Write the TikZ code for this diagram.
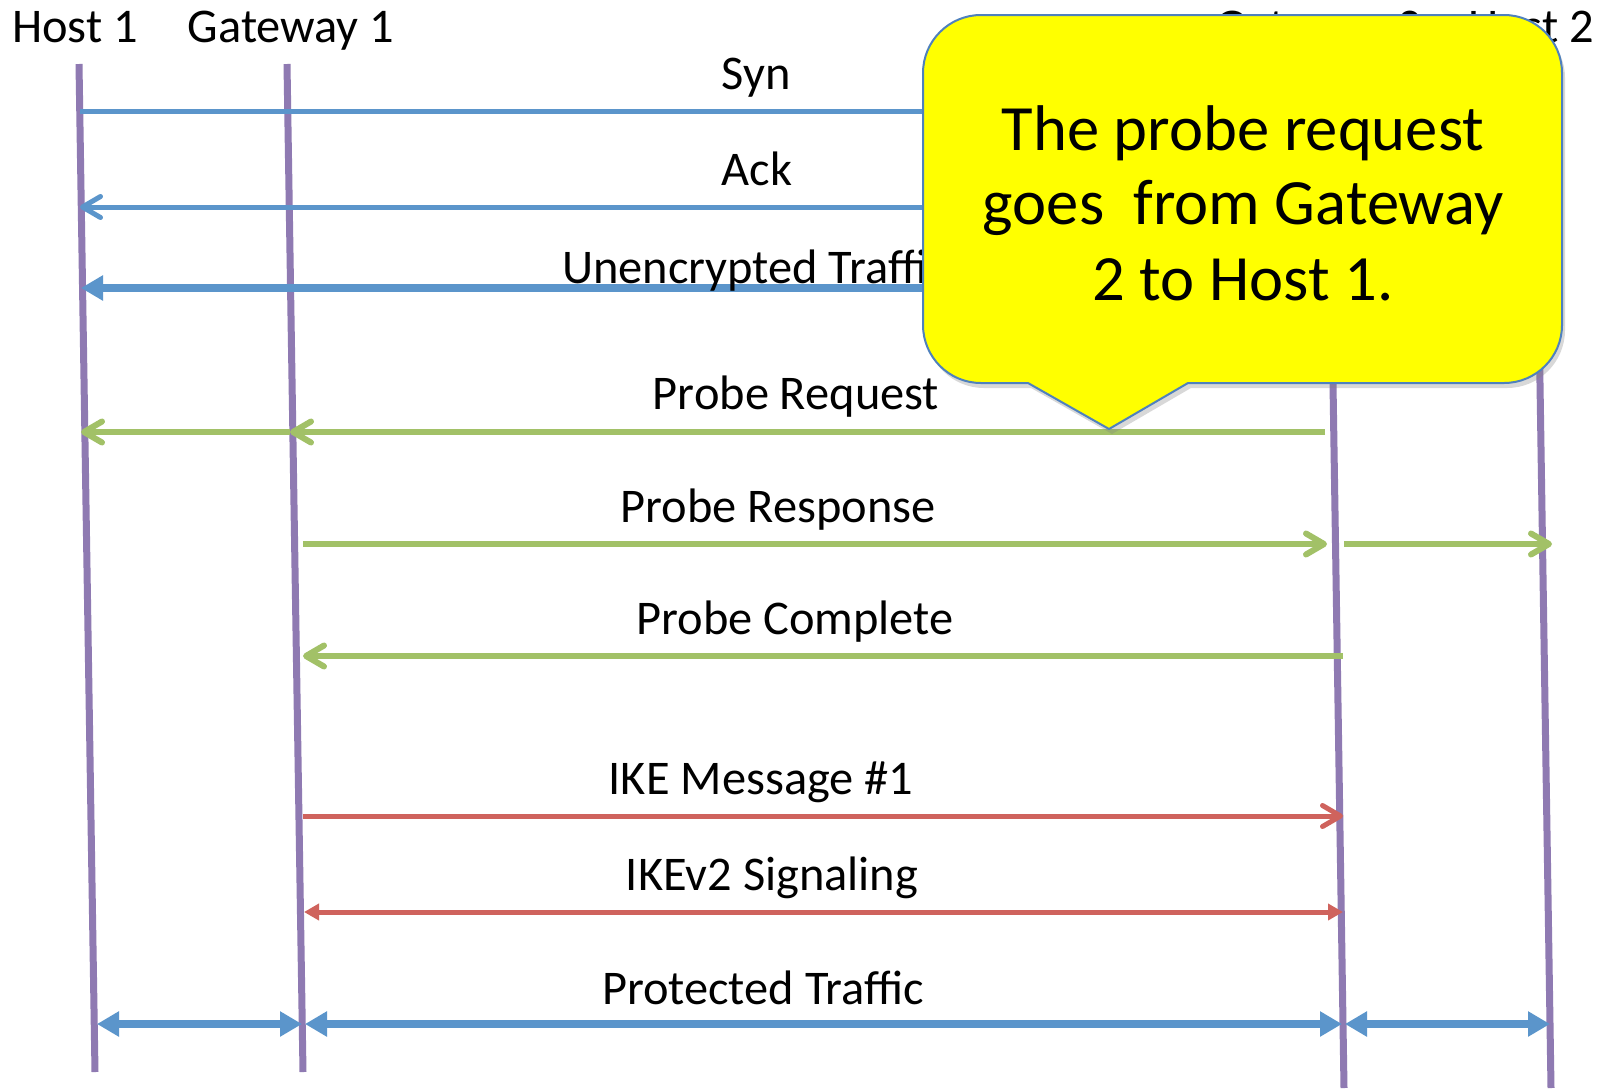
\documentclass[tikz,border=0pt]{standalone}
\usepackage{fontspec}
\setmainfont{Carlito}
\usetikzlibrary{arrows.meta,shadows}

\definecolor{cLife}{RGB}{143,122,178}
\definecolor{cBlue}{RGB}{91,149,203}
\definecolor{cGreen}{RGB}{162,193,103}
\definecolor{cRed}{RGB}{207,99,93}
\definecolor{cCallFill}{RGB}{255,255,0}
\definecolor{cCallLine}{RGB}{79,129,189}

\begin{document}
\begin{tikzpicture}[x=0.5pt,y=-0.5pt,
  life/.style={draw=cLife,line width=3.5pt},
  bluethin/.style={draw=cBlue,line width=2.5pt},
  bluethick/.style={draw=cBlue,line width=4pt},
  bluewide/.style={draw=cBlue,line width=3.75pt},
  greenmsg/.style={draw=cGreen,line width=3pt},
  redmsg/.style={draw=cRed,line width=2.5pt},
  openhead/.style={-{Straight Barb[length=9pt,width=10.5pt,round]}},
  bigfill/.style={-{Triangle[length=11pt,width=12pt]}},
  bigboth/.style={{Triangle[length=11pt,width=12pt]}-{Triangle[length=11pt,width=12pt]}},
  smallboth/.style={{Triangle[length=7.5pt,width=8pt]}-{Triangle[length=7.5pt,width=8pt]}},
  txt/.style={font=\fontsize{24.2}{29}\selectfont,inner sep=0pt,anchor=base},
  calltxt/.style={font=\fontsize{32.3}{38}\selectfont,inner sep=0pt,anchor=base},
  callout/.style={fill=cCallFill,draw=cCallLine,line width=1pt,line join=round,
    drop shadow={shadow xshift=1.5pt,shadow yshift=-2.5pt,opacity=0.3}}]

\useasboundingbox[fill=white] (0,0) rectangle (1601,1088);

% column headings
\node[txt] (hH1) at (75,42) {Host 1};
\node[txt] (hG1) at (291,42) {Gateway 1};
\node[txt] (hG2) at (1319,42) {Gateway 2};
\node[txt] (hH2) at (1531,42) {Host 2};

% lifelines
\coordinate (h1t) at (79,64);   \coordinate (h1b) at (95,1072);
\coordinate (g1t) at (287,64);  \coordinate (g1b) at (303,1072);
\coordinate (g2t) at (1328,64); \coordinate (g2b) at (1344,1088);
\coordinate (h2t) at (1535,64); \coordinate (h2b) at (1551,1088);
\draw[life] (h1t) -- (h1b);
\draw[life] (g1t) -- (g1b);
\draw[life] (g2t) -- (g2b);
\draw[life] (h2t) -- (h2b);

% Syn: host 1 -> host 2
\coordinate (synA) at (80,111);  \coordinate (synB) at (1536,111);
\draw[bluethin,openhead] (synA) -- (synB);
\node[txt] (synL) at (756,89) {Syn};

% Ack: host 2 -> host 1
\coordinate (ackA) at (1537,207); \coordinate (ackB) at (80,207);
\draw[bluethin,openhead] (ackA) -- (ackB);
\node[txt] (ackL) at (757,185) {Ack};

% unencrypted traffic: host 2 -> host 1
\coordinate (unA) at (1538,288); \coordinate (unB) at (81,288);
\draw[bluethick,bigfill] (unA) -- (unB);
\node[txt] (unL) at (755,283) {Unencrypted Traffic};

% probe request: gateway 2 -> host 1, passing gateway 1
\coordinate (prqA) at (1325,432); \coordinate (prqB) at (290,432); \coordinate (prqC) at (81,432);
\draw[greenmsg,openhead] (prqA) -- (prqB);
\draw[greenmsg,openhead] (prqB) -- (prqC);
\node[txt] (prqL) at (796,409) {Probe Request};

% probe response: gateway 1 -> gateway 2, gateway 2 -> host 2
\coordinate (prsA) at (303,544); \coordinate (prsB) at (1327,544);
\coordinate (prsC) at (1344,544); \coordinate (prsD) at (1552,544);
\draw[greenmsg,openhead] (prsA) -- (prsB);
\draw[greenmsg,openhead] (prsC) -- (prsD);
\node[txt] (prsL) at (778,522) {Probe Response};

% probe complete: gateway 2 -> gateway 1
\coordinate (pcA) at (1343,656); \coordinate (pcB) at (303,656);
\draw[greenmsg,openhead] (pcA) -- (pcB);
\node[txt] (pcL) at (795,634) {Probe Complete};

% first IKE message
\coordinate (ikeA) at (303,816); \coordinate (ikeB) at (1343,816);
\draw[redmsg,openhead] (ikeA) -- (ikeB);
\node[txt] (ikeL) at (761,794) {IKE Message \#1};

% IKEv2 exchange, both ways
\coordinate (ik2A) at (304,912); \coordinate (ik2B) at (1343,912);
\draw[redmsg,smallboth] (ik2A) -- (ik2B);
\node[txt] (ik2L) at (772,890) {IKEv2 Signaling};

% protected traffic, hop by hop
\coordinate (ptA) at (97,1024);   \coordinate (ptB) at (302,1024);
\coordinate (ptC) at (305,1024);  \coordinate (ptD) at (1342,1024);
\coordinate (ptE) at (1345,1024); \coordinate (ptF) at (1550,1024);
\draw[bluewide,bigboth] (ptA) -- (ptB);
\draw[bluewide,bigboth] (ptC) -- (ptD);
\draw[bluewide,bigboth] (ptE) -- (ptF);
\node[txt] (ptL) at (763,1004) {Protected Traffic};

% callout balloon: four rounded corners, sharp pointer
\path[callout] (1109,429) -- (1028,383) [rounded corners=29pt] -- (923,383)
  -- (923,15) -- (1562,15) -- (1562,383) [sharp corners] -- (1188,383) -- cycle;
\node[calltxt] (cl1) at (1243,150) {The probe request};
\node[calltxt] (cl2) at (1243,224) {goes\ \ from Gateway};
\node[calltxt] (cl3) at (1243,300) {2 to Host 1.};

\end{tikzpicture}
\end{document}
